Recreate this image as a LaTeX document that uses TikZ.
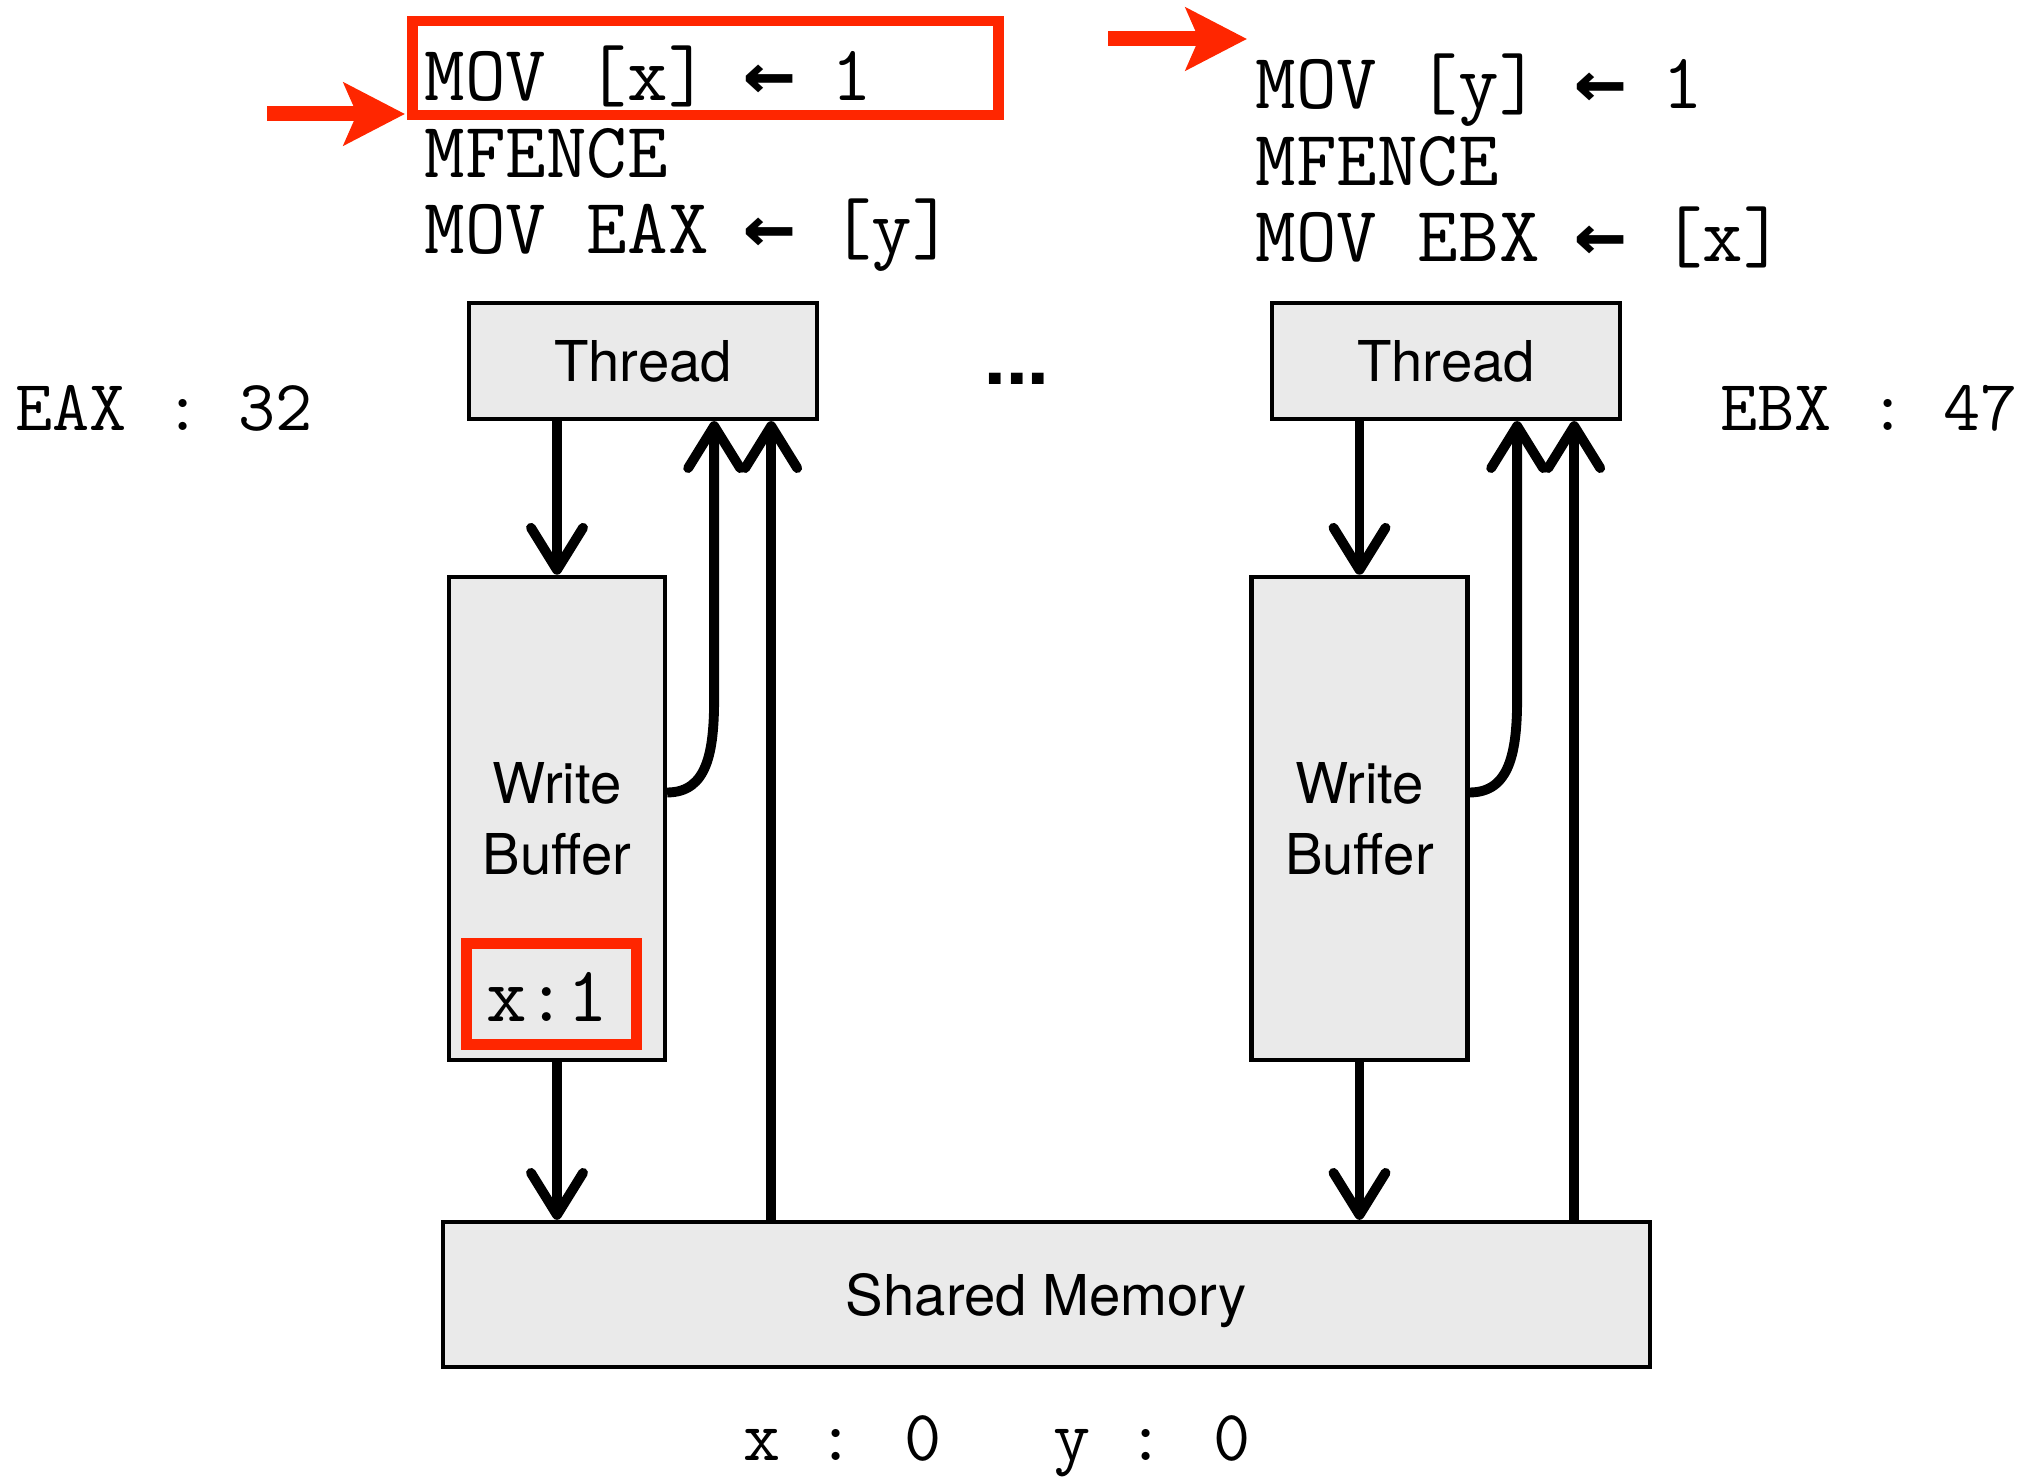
\documentclass[tikz,border=0pt]{standalone}
\usepackage{fontspec}
\setmainfont{TeX Gyre Heros}
\newfontfamily\arrowfont{DejaVu Sans Mono}
\usetikzlibrary{arrows.meta,calc}
\definecolor{boxfill}{RGB}{234,234,234}
\definecolor{hired}{RGB}{255,38,0}
\newcommand{\larr}{\makebox[0.525em][c]{\arrowfont\bfseries\scalebox{1.1}[1]{←}}}
\begin{document}
\begin{tikzpicture}[x=0.01cm,y=-0.01cm,
  box/.style={draw=black, line width=1.2pt, fill=boxfill, inner sep=0pt, font=\fontsize{16}{20.2}\selectfont, align=center},
  arr/.style={line width=2.8pt, -{Straight Barb[length=0.42cm,width=0.52cm,round]}},
  code/.style={anchor=base west, inner sep=0pt, font=\ttfamily\fontsize{22.4}{26}\selectfont},
  reg/.style={anchor=base west, inner sep=0pt, font=\ttfamily\fontsize{20.5}{25}\selectfont},
  redarr/.style={hired, line width=0.15cm, -{Stealth[length=0.61cm,width=0.62cm,inset=0.13cm]}},
  redbox/.style={draw=hired, line width=3.1pt, inner sep=0pt}
]
\useasboundingbox (0,0) rectangle (2036,1480);

% boxes
\node[box, minimum width=3.48cm, minimum height=1.16cm] (tl) at (643,361) {Thread};
\node[box, minimum width=3.48cm, minimum height=1.16cm] (tr) at (1446,361) {Thread};
\node[box, minimum width=2.16cm, minimum height=4.83cm] (wl) at (557,818.5) {Write\\Buffer};
\node[box, minimum width=2.16cm, minimum height=4.83cm] (wr) at (1359.5,818.5) {Write\\Buffer};
\node[box, minimum width=12.07cm, minimum height=1.45cm, text depth=0pt] (sm) at (1046.5,1294.5) {Shared Memory};

% red boxes
\node[redbox, minimum width=1.70cm, minimum height=1.01cm] (xr) at (551.5,994) {};
\node[code, anchor=base] (xt) at (547,1022) {x:1};
\node[redbox, minimum width=5.85cm, minimum height=0.94cm] (cr) at (705.5,68) {};

% code
\node[code] (l1) at (424,101) {MOV [x] \larr{} 1};
\node[code] (l2) at (424,178) {MFENCE};
\node[code] (l3) at (424,254) {MOV EAX \larr{} [y]};
\node[code] (r1) at (1255,109) {MOV [y] \larr{} 1};
\node[code] (r2) at (1255,186) {MFENCE};
\node[code] (r3) at (1255,262) {MOV EBX \larr{} [x]};

% registers and memory
\node[reg] (eax) at (15,431) {EAX : 32};
\node[reg] (ebx) at (1720,431) {EBX : 47};
\node[reg] (mem) at (743,1461) {x : 0\ \ \ y : 0};
\node[font=\bfseries\fontsize{22}{22}\selectfont, anchor=base, inner sep=0pt] (dots) at (1017,385) {...};

% red arrows
\coordinate (ra1s) at (267,114);
\coordinate (ra1e) at (405,114);
\coordinate (ra2s) at (1108,39);
\coordinate (ra2e) at (1247,39);
\draw[redarr] (ra1s) -- (ra1e);
\draw[redarr] (ra2s) -- (ra2e);

% left arrows
\draw[arr] (tl.south -| wl.north) -- (wl.north);
\draw[arr] (wl.south) -- (wl.south |- sm.north);
\coordinate (lup) at ([xshift=-0.48cm]tl.south east);
\draw[arr] (lup |- sm.north) -- (lup);
\coordinate (lcs) at ([yshift=0.26cm]wl.east);
\coordinate (lct) at ([xshift=-1.05cm]tl.south east);
\coordinate (lce) at (lcs -| lct);
\draw[arr] (lcs) .. controls ($(lcs)+(40,0)$) and ($(lce)+(0,-40)$) .. ($(lce)+(0,-95)$) -- (lct);

% right arrows
\draw[arr] (tr.south -| wr.north) -- (wr.north);
\draw[arr] (wr.south) -- (wr.south |- sm.north);
\coordinate (rup) at ([xshift=-0.48cm]tr.south east);
\draw[arr] (rup |- sm.north) -- (rup);
\coordinate (rcs) at ([yshift=0.26cm]wr.east);
\coordinate (rct) at ([xshift=-1.05cm]tr.south east);
\coordinate (rce) at (rcs -| rct);
\draw[arr] (rcs) .. controls ($(rcs)+(40,0)$) and ($(rce)+(0,-40)$) .. ($(rce)+(0,-95)$) -- (rct);
\end{tikzpicture}
\end{document}
